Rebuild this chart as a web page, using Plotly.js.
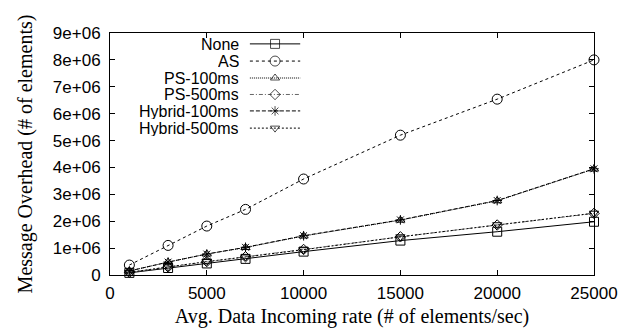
<!DOCTYPE html>
<html><head><meta charset="utf-8">
<script src="https://cdn.plot.ly/plotly-3.0.1.min.js"></script>
<style>html,body{margin:0;padding:0;background:#fff}#c{width:631px;height:328px}</style>
</head><body><div id="c"></div>
<script>
const rates = [1000, 3000, 5000, 7000, 10000, 15000, 20000, 25000];
const noneVals   = [80000, 260000, 430000, 600000, 870000, 1280000, 1610000, 1980000];
const asVals     = [370000, 1100000, 1820000, 2440000, 3570000, 5200000, 6540000, 8000000];
const ps100Vals  = [150000, 480000, 780000, 1020000, 1450000, 2040000, 2760000, 3940000];
const ps500Vals  = [100000, 300000, 500000, 680000, 950000, 1420000, 1860000, 2290000];
const hy100Vals  = [150000, 480000, 780000, 1030000, 1460000, 2050000, 2770000, 3950000];
const hy500Vals  = [100000, 300000, 500000, 670000, 940000, 1420000, 1870000, 2300000];
const seriesNames = ["None", "AS", "PS-100ms", "PS-500ms", "Hybrid-100ms", "Hybrid-500ms"];
const yTickVals = [0, 1e6, 2e6, 3e6, 4e6, 5e6, 6e6, 7e6, 8e6, 9e6];
const yTickText = ["0", "1e+06", "2e+06", "3e+06", "4e+06", "5e+06", "6e+06", "7e+06", "8e+06", "9e+06"];
const xTickVals = [0, 5000, 10000, 15000, 20000, 25000];
const xTickText = ["0", "5000", "10000", "15000", "20000", "25000"];

const allVals = [noneVals, asVals, ps100Vals, ps500Vals, hy100Vals, hy500Vals];
const styles = [
  {dash: "solid", color: "#000", symbol: "square-open", size: 9},
  {dash: "dot", color: "#000", symbol: "circle-open", size: 10},
  {dash: "1px,1px", color: "#000", symbol: "triangle-up-open", size: 8},
  {dash: "4px,2px,1px,2px", color: "#666", symbol: "diamond-open", size: 8},
  {dash: "4px,2px", color: "#000", symbol: "asterisk-open", size: 8},
  {dash: "2px,2px", color: "#000", symbol: "triangle-down-open", size: 8}
];

const traces = [];
allVals.forEach((v, i) => {
  traces.push({
    x: rates, y: v, name: seriesNames[i], type: "scatter", mode: "lines+markers",
    line: {color: styles[i].color, width: 1, dash: styles[i].dash},
    marker: {symbol: styles[i].symbol, size: styles[i].size, color: "#000", line: {color: "#000", width: 1}},
    showlegend: false, cliponaxis: false
  });
});

// legend samples on overlay axis (0..1 over the plot area)
const legY = [0.955, 0.884, 0.814, 0.746, 0.678, 0.607];
const annotations = [];
legY.forEach((ly, i) => {
  traces.push({
    x: [0.289, 0.341, 0.393], y: [ly, ly, ly], xaxis: "x2", yaxis: "y2",
    type: "scatter", mode: "lines+markers", showlegend: false, hoverinfo: "skip",
    line: {color: styles[i].color, width: 1, dash: styles[i].dash},
    marker: {symbol: styles[i].symbol, size: [0, styles[i].size, 0], color: "#000", line: {color: "#000", width: 1}}
  });
  annotations.push({
    x: 0.268, y: ly, xref: "paper", yref: "paper", xanchor: "right", yanchor: "middle",
    height: 16, borderpad: 0,
    text: seriesNames[i], showarrow: false, font: {family: "Liberation Sans, Arial, sans-serif", size: 16, color: "#000"}
  });
});

const layout = {
  width: 631, height: 328,
  margin: {l: 110, r: 37, t: 33, b: 53},
  paper_bgcolor: "#fff", plot_bgcolor: "#fff",
  showlegend: false,
  font: {family: "Liberation Sans, Arial, sans-serif", size: 17, color: "#000"},
  xaxis: {
    range: [0, 25000], tickvals: xTickVals, ticktext: xTickText, ticks: "inside", ticklen: 5, tickcolor: "#000",
    showline: true, linecolor: "#000", linewidth: 1, mirror: "ticks", showgrid: false, zeroline: false,
    tickfont: {size: 17}, ticklabelstandoff: 3,
    title: {text: "Avg. Data Incoming rate (# of elements/sec)", font: {family: "Liberation Serif, Times New Roman, serif", size: 20}, standoff: 7}
  },
  yaxis: {
    range: [0, 9e6], tickvals: yTickVals, ticktext: yTickText, ticks: "inside", ticklen: 5, tickcolor: "#000",
    showline: true, linecolor: "#000", linewidth: 1, mirror: "ticks", showgrid: false, zeroline: false,
    tickfont: {size: 17}, ticklabelstandoff: 5,
    title: {text: "Message Overhead (# of elements)", font: {family: "Liberation Serif, Times New Roman, serif", size: 20}, standoff: 14}
  },
  xaxis2: {overlaying: "x", range: [0, 1], visible: false, fixedrange: true},
  yaxis2: {overlaying: "y", range: [0, 1], visible: false, fixedrange: true},
  annotations: annotations
};

Plotly.newPlot("c", traces, layout, {staticPlot: true, displayModeBar: false});
</script>
</body></html>
